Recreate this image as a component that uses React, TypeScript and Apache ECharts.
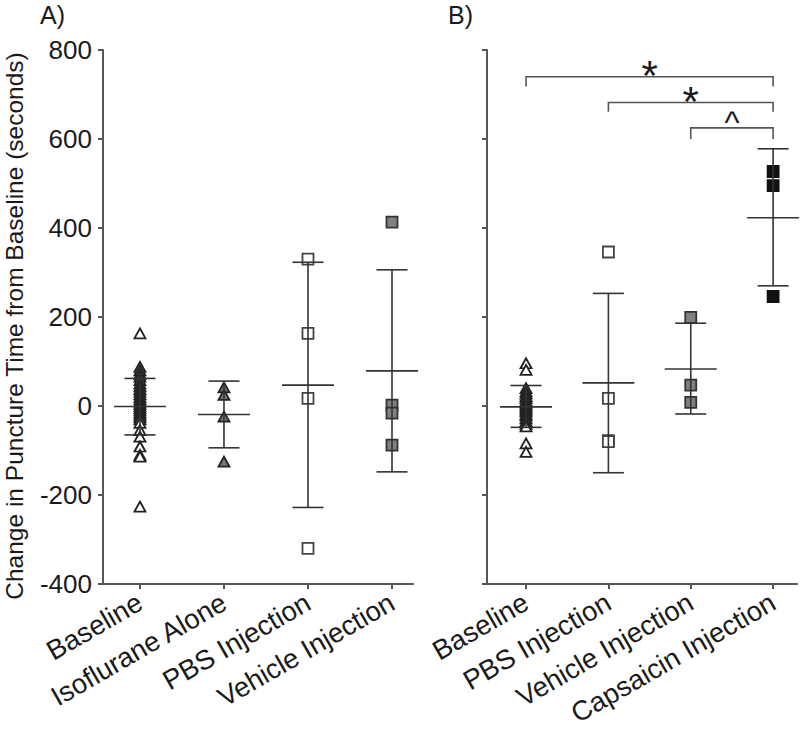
import React, { useEffect, useRef } from "react";
import * as echarts from "echarts";

const FONT = '"Liberation Sans", Arial, Helvetica, sans-serif';

// Categories
const catsA = ["Baseline", "Isoflurane Alone", "PBS Injection", "Vehicle Injection"];
const catsB = ["Baseline", "PBS Injection", "Vehicle Injection", "Capsaicin Injection"];

// Panel A individual values (seconds)
const aBaseline = [163, 88, 80, 72, 66, 58, 50, 44, 38, 32, 26, 20, 15, 10, 5, 0, -5, -10, -15, -20, -25, -30, -38, -54, -69, -91, -110, -114, -226];
const aIsoflurane = [42, 25, -24, -125];
const aPBS = [330, 163, 17, -320];
const aVehicle = [413, 2, -16, -88];

// Panel A mean and error-bar caps
const meanA = [-1, -19, 47, 79];
const upperA = [62, 56, 323, 306];
const lowerA = [-65, -94, -228, -148];

// Panel B individual values (seconds)
const bBaseline = [96, 81, 40, 33, 28, 22, 18, 12, 8, 4, 0, -4, -8, -12, -18, -22, -28, -34, -40, -46, -84, -103];
const bPBS = [346, 17, -78, -80];
const bVehicle = [199, 47, 8];
const bCapsaicin = [527, 495, 246];

// Panel B mean and error-bar caps
const meanB = [-2, 52, 83, 423];
const upperB = [46, 253, 186, 578];
const lowerB = [-48, -150, -18, 270];

// Significance brackets (panel B)
const bracketFrom = [1, 2, 3];
const bracketTo = [4, 4, 4];
const bracketTop = [740, 682, 625];
const bracketFoot = [718, 661, 600];
const bracketMark = ["*", "*", "^"];

// Y axis
const yMin = -400;
const yMax = 800;
const yStep = 200;

const AXIS_COLOR = "#555";
const INK = "#1a1a1a";

function scatter(gridIdx: number, xPos: number, vals: number[], symbol: string, fill: string, border: string) {
  return {
    type: "scatter",
    xAxisIndex: gridIdx,
    yAxisIndex: gridIdx,
    data: vals.map((v) => [xPos, v]),
    symbol,
    symbolSize: symbol === "triangle" ? [11, 10] : 11,
    itemStyle: { color: fill, borderColor: border, borderWidth: 1.8, opacity: 1 },
    z: 3,
  };
}

function errorBars(gridIdx: number, means: number[], lows: number[], highs: number[]) {
  return {
    type: "custom",
    xAxisIndex: gridIdx,
    yAxisIndex: gridIdx,
    data: means.map((m, i) => [i + 1, m, lows[i], highs[i]]),
    encode: { x: 0, y: [1, 2, 3] },
    z: 4,
    renderItem: (_params: any, api: any) => {
      const x = api.value(0);
      const pm = api.coord([x, api.value(1)]);
      const pl = api.coord([x, api.value(2)]);
      const ph = api.coord([x, api.value(3)]);
      const st = { stroke: "#333", lineWidth: 1.6 };
      return {
        type: "group",
        children: [
          { type: "line", shape: { x1: pl[0], y1: pl[1], x2: ph[0], y2: ph[1] }, style: st },
          { type: "line", shape: { x1: ph[0] - 15.5, y1: ph[1], x2: ph[0] + 15.5, y2: ph[1] }, style: st },
          { type: "line", shape: { x1: pl[0] - 15.5, y1: pl[1], x2: pl[0] + 15.5, y2: pl[1] }, style: st },
          { type: "line", shape: { x1: pm[0] - 26, y1: pm[1], x2: pm[0] + 26, y2: pm[1] }, style: st },
        ],
      };
    },
  };
}

function xAxis(gridIdx: number, cats: string[], min: number, max: number) {
  return {
    gridIndex: gridIdx,
    type: "value",
    min,
    max,
    axisLine: { show: true, onZero: false, lineStyle: { color: AXIS_COLOR, width: 2 } },
    axisTick: { show: true, customValues: [1, 2, 3, 4], length: 5, lineStyle: { color: AXIS_COLOR, width: 2 } },
    axisLabel: {
      show: true,
      customValues: [1, 2, 3, 4],
      formatter: (v: number) => cats[Math.round(v) - 1] ?? "",
      rotate: 30,
      fontSize: 27.5,
      color: INK,
      fontFamily: FONT,
      margin: 16,
    },
    splitLine: { show: false },
  };
}

function yAxis(gridIdx: number, showLabels: boolean) {
  return {
    gridIndex: gridIdx,
    type: "value",
    min: yMin,
    max: yMax,
    interval: yStep,
    axisLine: { show: true, onZero: false, lineStyle: { color: AXIS_COLOR, width: 2 } },
    axisTick: { show: true, length: 5, lineStyle: { color: AXIS_COLOR, width: 2 } },
    axisLabel: { show: showLabels, fontSize: 26, color: INK, fontFamily: FONT, margin: 11 },
    splitLine: { show: false },
  };
}

export default function App() {
  const ref = useRef<HTMLDivElement>(null);
  useEffect(() => {
    if (!ref.current) return;
    const chart = echarts.init(ref.current, null, { renderer: "svg" });
    const option: any = {
      animation: false,
      backgroundColor: "#fff",
      textStyle: { fontFamily: FONT },
      grid: [
        { left: 103, top: 50, width: 310, height: 534 },
        { left: 487, top: 50, width: 310, height: 534 },
      ],
      xAxis: [xAxis(0, catsA, 0.56, 4.25), xAxis(1, catsB, 0.526, 4.29)],
      yAxis: [yAxis(0, true), yAxis(1, false)],
      graphic: [
        {
          type: "text",
          x: 14,
          y: 326,
          rotation: Math.PI / 2,
          style: {
            text: "Change in Puncture Time from Baseline (seconds)",
            fontSize: 24.5,
            fontFamily: FONT,
            fill: INK,
            align: "center",
            verticalAlign: "middle",
          },
        },
        { type: "text", x: 40, y: 2, style: { text: "A)", fontSize: 25, fontFamily: FONT, fill: INK } },
        { type: "text", x: 448, y: 2, style: { text: "B)", fontSize: 25, fontFamily: FONT, fill: INK } },
      ],
      series: [
        scatter(0, 1, aBaseline, "triangle", "#fff", "#222"),
        scatter(0, 2, aIsoflurane, "triangle", "#777", "#222"),
        scatter(0, 3, aPBS, "rect", "#fff", "#444"),
        scatter(0, 4, aVehicle, "rect", "#808080", "#333"),
        errorBars(0, meanA, lowerA, upperA),
        scatter(1, 1, bBaseline, "triangle", "#fff", "#222"),
        scatter(1, 2, bPBS, "rect", "#fff", "#444"),
        scatter(1, 3, bVehicle, "rect", "#808080", "#333"),
        scatter(1, 4, bCapsaicin, "rect", "#111", "#111"),
        errorBars(1, meanB, lowerB, upperB),
        {
          type: "custom",
          xAxisIndex: 1,
          yAxisIndex: 1,
          data: bracketFrom.map((f, i) => [f, bracketTo[i], bracketTop[i], bracketFoot[i]]),
          encode: { x: [0, 1], y: [2, 3] },
          z: 5,
          renderItem: (params: any, api: any) => {
            const a = api.coord([api.value(0), api.value(3)]);
            const b = api.coord([api.value(0), api.value(2)]);
            const c = api.coord([api.value(1), api.value(2)]);
            const d = api.coord([api.value(1), api.value(3)]);
            const mark = bracketMark[params.dataIndex];
            const isStar = mark === "*";
            return {
              type: "group",
              children: [
                {
                  type: "polyline",
                  shape: { points: [a, b, c, d] },
                  style: { stroke: "#555", lineWidth: 1.6, fill: "none" },
                },
                {
                  type: "text",
                  x: (b[0] + c[0]) / 2,
                  y: b[1] + (isStar ? -1 : -6),
                  style: {
                    text: mark,
                    fontSize: isStar ? 42 : 32,
                    fontFamily: FONT,
                    fill: INK,
                    align: "center",
                    verticalAlign: "middle",
                  },
                },
              ],
            };
          },
        },
      ],
    };
    chart.setOption(option);
    return () => chart.dispose();
  }, []);
  return (
    <div
      ref={ref}
      style={{ position: "fixed", left: 0, top: 0, width: 800, height: 729, background: "#fff" }}
    />
  );
}
